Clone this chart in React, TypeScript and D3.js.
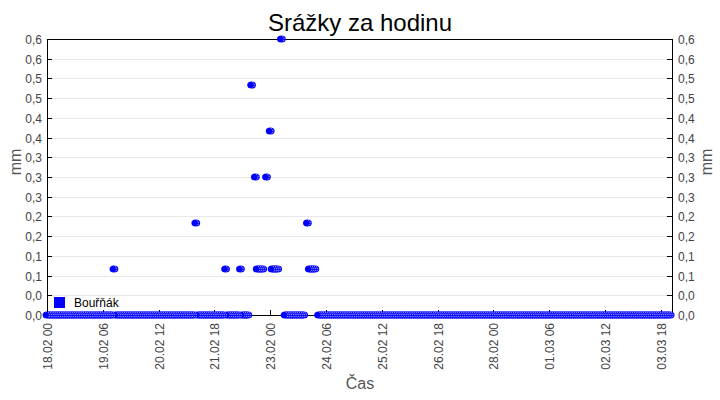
import React from "react";
import * as d3 from "d3";

const chartTitle = "Srážky za hodinu";
const seriesName = "Bouřňák";
const xAxisTitle = "Čas";
const yAxisTitle = "mm";

const yMax = 0.6;
const yIntervals = 14;

// hourly precipitation [mm], one row per day, hours 00..23 (null = no record)
const day1802 = [0,0,0,0,0,0,0,0,0,0,0,0,0,0,0,0,0,0,0,0,0,0,0,0];
const day1902 = [0,0,0,0,0,0,0,0,0,0,0,0,0.1,0,0,0,0,0,0,0,0,0,0,0];
const day2002 = [0,0,0,0,0,0,0,0,0,0,0,0,0,0,0,0,0,0,0,0,0,0,0,0];
const day2102 = [0,0,0,0,0,0,0,0,0.2,0,0,0,0,0,0,0,0,0,0,0,0,0,0,0];
const day2202 = [0.1,0,0,0,0,0,0,0,0.1,0,0,0,0,null,0.5,null,0.3,0.1,0.1,0.1,0.1,null,0.3,null];
const day2302 = [0.4,0.1,0.1,0.1,0.1,null,0.6,null,0,0,0,0,0,0,0,0,0,0,0,null,0.2,0.1,0.1,0.1];
const day2402 = [0.1,null,0,0,0,0,0,0,0,0,0,0,0,0,0,0,0,0,0,0,0,0,0,0];
const day2502 = [0,0,0,0,0,0,0,0,0,0,0,0,0,0,0,0,0,0,0,0,0,0,0,0];
const day2602 = [0,0,0,0,0,0,0,0,0,0,0,0,0,0,0,0,0,0,0,0,0,0,0,0];
const day2702 = [0,0,0,0,0,0,0,0,0,0,0,0,0,0,0,0,0,0,0,0,0,0,0,0];
const day2802 = [0,0,0,0,0,0,0,0,0,0,0,0,0,0,0,0,0,0,0,0,0,0,0,0];
const day0103 = [0,0,0,0,0,0,0,0,0,0,0,0,0,0,0,0,0,0,0,0,0,0,0,0];
const day0203 = [0,0,0,0,0,0,0,0,0,0,0,0,0,0,0,0,0,0,0,0,0,0,0,0];
const day0303 = [0,0,0,0,0,0,0,0,0,0,0,0,0,0,0,0,0,0,0,0,0,0,0,0];

const dayRows: (number | null)[][] = [
  day1802, day1902, day2002, day2102, day2202, day2302, day2402,
  day2502, day2602, day2702, day2802, day0103, day0203, day0303,
];

const xTickLabels = [
  "18.02 00", "19.02 06", "20.02 12", "21.02 18", "23.02 00", "24.02 06",
  "25.02 12", "26.02 18", "28.02 00", "01.03 06", "02.03 12", "03.03 18",
];

const YEAR = 2023;
const startDate = new Date(YEAR, 1, 18, 0);
const endDate = new Date(YEAR, 2, 4, 0);

const W = 720;
const H = 400;
const L = 47;
const R = 672;
const T = 39;
const B = 315;
const FONT = "'Liberation Sans', Arial, sans-serif";
const BLUE = "#0000ff";

function parseTick(s: string): Date {
  const [dm, hh] = s.split(" ");
  const [dd, mm] = dm.split(".");
  return new Date(YEAR, +mm - 1, +dd, +hh);
}

export default function App() {
  const x = d3.scaleTime().domain([startDate, endDate]).range([L, R]);
  const y = d3.scaleLinear().domain([0, yMax]).range([B, T]);
  const yTicks = d3.range(yIntervals + 1).map((i) => (i * yMax) / yIntervals);
  const fmt = (v: number) => d3.format(".1f")(v).replace(".", ",");

  const points: { x: number; y: number }[] = [];
  dayRows.forEach((row, d) => {
    row.forEach((v, h) => {
      if (v === null) return;
      const t = new Date(YEAR, 1, 18 + d, h);
      points.push({ x: x(t), y: y(v) });
    });
  });

  const labelColor = "#444";

  return (
    <svg
      width={W}
      height={H}
      style={{ position: "absolute", left: 0, top: 0, background: "#fff" }}
      fontFamily={FONT}
    >
      <rect x={0} y={0} width={W} height={H} fill="#fff" />
      <text x={360} y={31} textAnchor="middle" fontSize={24} fill="#000">
        {chartTitle}
      </text>

      {/* grid */}
      {yTicks.map((t, i) => (
        <line key={"g" + i} x1={L} x2={R} y1={Math.round(y(t)) + 0.5} y2={Math.round(y(t)) + 0.5} stroke="#e8e8e8" strokeWidth={1} />
      ))}

      {/* frame */}
      <line x1={L} x2={R} y1={T + 0.5} y2={T + 0.5} stroke="#000" />
      <line x1={L} x2={R} y1={B + 0.5} y2={B + 0.5} stroke="#000" />
      <line x1={L + 0.5} x2={L + 0.5} y1={T} y2={B + 1} stroke="#000" />
      <line x1={R + 0.5} x2={R + 0.5} y1={T} y2={B + 1} stroke="#000" />

      {/* y ticks */}
      {yTicks.map((t, i) => {
        const yy = Math.round(y(t)) + 0.5;
        return (
          <g key={"yt" + i}>
            <line x1={L} x2={L + 5} y1={yy} y2={yy} stroke="#000" />
            <line x1={R - 5} x2={R} y1={yy} y2={yy} stroke="#000" />
            <text x={42} y={yy} dy="0.35em" textAnchor="end" fontSize={12} fill={labelColor}>
              {fmt(t)}
            </text>
            <text x={678} y={yy} dy="0.35em" textAnchor="start" fontSize={12} fill={labelColor}>
              {fmt(t)}
            </text>
          </g>
        );
      })}

      {/* x ticks */}
      {xTickLabels.map((lab, i) => {
        const xx = Math.round(x(parseTick(lab))) + 0.5;
        return (
          <g key={"xt" + i}>
            <line x1={xx} x2={xx} y1={B - 5} y2={B} stroke="#000" />
            <text
              transform={`translate(${xx},323) rotate(-90)`}
              dy="0.35em"
              textAnchor="end"
              fontSize={12}
              fill={labelColor}
            >
              {lab}
            </text>
          </g>
        );
      })}

      {/* axis titles */}
      <text x={360} y={389} textAnchor="middle" fontSize={16} fill="#555">
        {xAxisTitle}
      </text>
      <text transform={`translate(15,162) rotate(-90)`} dy="0.35em" textAnchor="middle" fontSize={16} fill="#555">
        {yAxisTitle}
      </text>
      <text transform={`translate(706,162) rotate(-90)`} dy="0.35em" textAnchor="middle" fontSize={16} fill="#555">
        {yAxisTitle}
      </text>

      {/* legend */}
      <rect x={54} y={297} width={11} height={11} fill={BLUE} />
      <text x={74} y={307} fontSize={12} fill="#000">
        {seriesName}
      </text>

      {/* markers */}
      <g>
        {points.map((p, i) => (
          <ellipse key={"m" + i} cx={p.x} cy={p.y} rx={4.4} ry={3.6} fill={BLUE} />
        ))}
      </g>
      <g>
        {points.map((p, i) => (
          <path
            key={"c" + i}
            d={`M${p.x + 1},${p.y - 2.6} A2.8 2.8 0 0 1 ${p.x + 1},${p.y + 2.6}`}
            fill="none"
            stroke="#fff"
            strokeWidth={0.8}
            strokeDasharray="1 1"
          />
        ))}
      </g>
    </svg>
  );
}
